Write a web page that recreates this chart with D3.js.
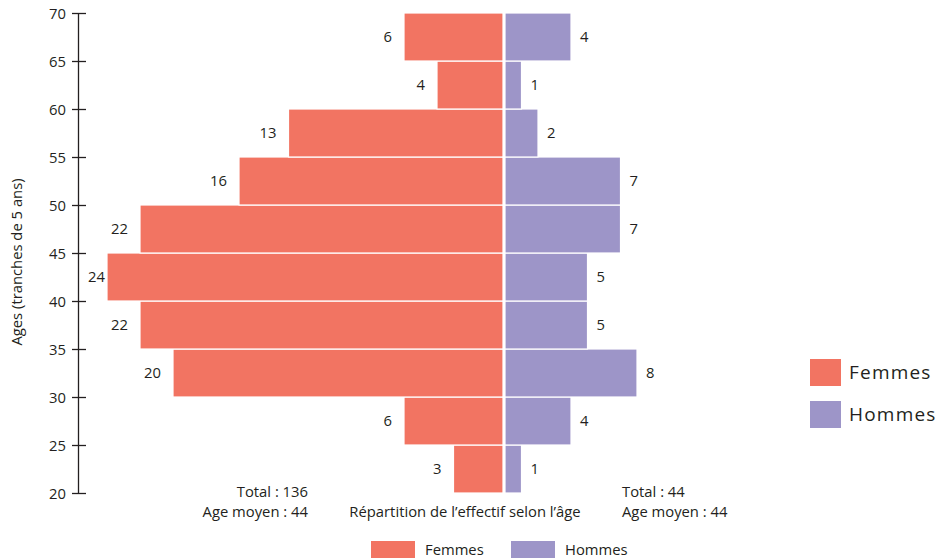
<!DOCTYPE html>
<html>
<head>
<meta charset="utf-8">
<script src="https://cdn.jsdelivr.net/npm/d3@7/dist/d3.min.js"></script>
<style>
  html, body { margin: 0; padding: 0; background: #fff; }
  svg { display: block; }
  text { font-family: "Open Sans", sans-serif; fill: #231f20; }
</style>
</head>
<body>
<svg id="chart" width="940" height="558"></svg>
<script>
// Age bands (lower bound of each 5-year band), bottom to top
const ageBands = [20, 25, 30, 35, 40, 45, 50, 55, 60, 65];
const femmes = [3, 6, 20, 22, 24, 22, 16, 13, 4, 6];
const hommes = [1, 4, 8, 5, 5, 7, 7, 2, 1, 4];
const ageTicks = [20, 25, 30, 35, 40, 45, 50, 55, 60, 65, 70];
const seriesNames = ["Femmes", "Hommes"];
const seriesColors = ["#f27462", "#9d95c8"];
const totals = ["Total : 136", "Total : 44"];
const ageMoyen = ["Age moyen : 44", "Age moyen : 44"];

const svg = d3.select("#chart");
const axisX = 78;
const centerX = 504;
const fs = 14.8;

const y = d3.scaleLinear().domain([20, 70]).range([493, 13]);
const w = d3.scaleLinear().domain([0, 24]).range([0, 396]);

// Bars
const rows = ageBands.map((a, i) => ({ a, f: femmes[i], h: hommes[i] }));
const g = svg.append("g");

g.selectAll("rect.f").data(rows).join("rect")
  .attr("class", "f")
  .attr("x", d => centerX - 1 - w(d.f))
  .attr("y", d => y(d.a + 5))
  .attr("width", d => w(d.f))
  .attr("height", d => y(d.a) - y(d.a + 5))
  .attr("fill", seriesColors[0])
  .attr("stroke", "#fff").attr("stroke-width", 1.2);

g.selectAll("rect.h").data(rows).join("rect")
  .attr("class", "h")
  .attr("x", centerX + 1)
  .attr("y", d => y(d.a + 5))
  .attr("width", d => w(d.h))
  .attr("height", d => y(d.a) - y(d.a + 5))
  .attr("fill", seriesColors[1])
  .attr("stroke", "#fff").attr("stroke-width", 1.2);

// Value labels (kept clear of the axis for the longest bars)
g.selectAll("text.fl").data(rows).join("text")
  .attr("class", "fl")
  .attr("x", d => Math.max(centerX - 1 - w(d.f) - 12, 105))
  .attr("y", d => (y(d.a) + y(d.a + 5)) / 2 + 5)
  .attr("text-anchor", "end")
  .attr("font-size", fs)
  .text(d => d.f);

g.selectAll("text.hl").data(rows).join("text")
  .attr("class", "hl")
  .attr("x", d => centerX + 1 + w(d.h) + 9)
  .attr("y", d => (y(d.a) + y(d.a + 5)) / 2 + 5)
  .attr("text-anchor", "start")
  .attr("font-size", fs)
  .text(d => d.h);

// Y axis with ticks crossing the line
const axis = svg.append("g")
  .attr("transform", `translate(${axisX},0)`)
  .call(d3.axisLeft(y).tickValues(ageTicks).tickSize(6).tickSizeOuter(0).tickPadding(6));
axis.select(".domain").attr("stroke", "#231f20").attr("stroke-width", 1.3);
axis.selectAll(".tick line").attr("x1", 8).attr("x2", -6)
  .attr("stroke", "#231f20").attr("stroke-width", 1.3);
axis.selectAll(".tick text")
  .attr("font-family", "'Open Sans', sans-serif")
  .attr("font-size", fs).attr("fill", "#231f20").attr("dy", "0.35em");

svg.append("text")
  .attr("transform", "translate(22,262) rotate(-90)")
  .attr("text-anchor", "middle")
  .attr("font-size", fs)
  .text("Ages (tranches de 5 ans)");

// Totals and caption
svg.append("text").attr("x", 308).attr("y", 497).attr("text-anchor", "end")
  .attr("font-size", fs).text(totals[0]);
svg.append("text").attr("x", 308).attr("y", 517).attr("text-anchor", "end")
  .attr("font-size", fs).text(ageMoyen[0]);
svg.append("text").attr("x", 622).attr("y", 497).attr("text-anchor", "start")
  .attr("font-size", fs).text(totals[1]);
svg.append("text").attr("x", 622).attr("y", 517).attr("text-anchor", "start")
  .attr("font-size", fs).text(ageMoyen[1]);
svg.append("text").attr("x", 465).attr("y", 517).attr("text-anchor", "middle")
  .attr("font-size", fs).text("Répartition de l’effectif selon l’âge");

// Bottom legend
const bl = svg.append("g");
[371, 511].forEach((x, i) => {
  bl.append("rect").attr("x", x).attr("y", 541).attr("width", 44).attr("height", 20)
    .attr("fill", seriesColors[i]);
  bl.append("text").attr("x", x + 54).attr("y", 555).attr("font-size", fs)
    .text(seriesNames[i]);
});

// Right legend
const rl = svg.append("g");
[359, 401].forEach((yy, i) => {
  rl.append("rect").attr("x", 810).attr("y", yy).attr("width", 31).attr("height", 27)
    .attr("fill", seriesColors[i]);
  rl.append("text").attr("x", 849).attr("y", yy + 20)
    .attr("font-family", "'Open Sans', sans-serif")
    .attr("font-size", 19).attr("letter-spacing", 1.2)
    .text(seriesNames[i]);
});
</script>
</body>
</html>
